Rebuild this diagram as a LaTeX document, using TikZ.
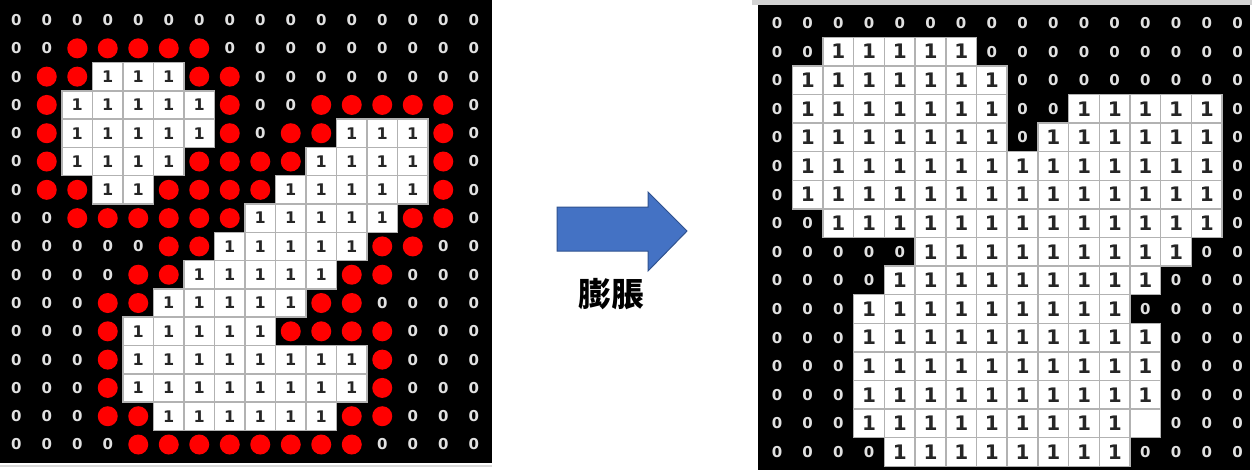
\documentclass[tikz,border=0pt]{standalone}
\usepackage{fontspec}
\newfontfamily\cjkfont{Noto Sans CJK TC}
\newfontfamily\digfont{DejaVu Sans}
\definecolor{arrowblue}{RGB}{68,114,196}
\definecolor{arrowedge}{RGB}{47,82,143}
\definecolor{zeroc}{RGB}{225,225,225}
\tikzset{
  zerotxt/.style={text=zeroc, font=\digfont\bfseries\fontsize{15}{15}\selectfont, inner sep=0pt},
  onetxtL/.style={text=black!85, font=\digfont\bfseries\fontsize{16}{16}\selectfont, inner sep=0pt},
  onetxtR/.style={text=black!85, font=\digfont\bfseries\fontsize{20}{20}\selectfont, inner sep=0pt},
  onecell/.style={fill=white, draw=gray!60, line width=1.5pt},
  reddot/.style={fill=red},
  blockarrow/.style={fill=arrowblue, draw=arrowedge, line width=1pt},
  lbltxt/.style={font=\cjkfont\bfseries\fontsize{33}{33}\selectfont, text=black, inner sep=0pt}
}
\begin{document}
\begin{tikzpicture}[x=1pt,y=-1pt]
\useasboundingbox (0,0) rectangle (1255,475);
\fill[white] (0,0) rectangle (1255,475);
% ---------------- left grid (original) ----------------
\fill[black] (0,0) rectangle (492,463);
\draw[gray!30, line width=1.5pt] (0,466) -- (492,466);
\foreach \r/\a/\b/\d/\e in {0/99/98/99/98, 1/99/98/99/98, 2/3/5/99/98, 3/2/6/99/98,
    4/2/6/11/13, 5/2/5/10/13, 6/3/4/9/13, 7/8/12/99/98, 8/7/11/99/98, 9/6/10/99/98,
    10/5/9/99/98, 11/4/8/99/98, 12/4/11/99/98, 13/4/11/99/98, 14/5/10/99/98, 15/99/98/99/98}
  \foreach \c in {0,...,15} {
    \pgfmathtruncatemacro\isone{((\c>=\a)&&(\c<=\b))||((\c>=\d)&&(\c<=\e))}
    \ifnum\isone=1
      \draw[onecell] ({1+30.5*\c},{5.85+28.3*\r}) rectangle +(30.5,28.3);
      \node[onetxtL] (LO-\r-\c) at ({16.25+30.5*\c},{20+28.3*\r}) {1};
    \else
      \node[zerotxt] (LZ-\r-\c) at ({16.25+30.5*\c},{20+28.3*\r}) {0};
    \fi
  }
\foreach \r/\cs in {1/{2,3,4,5,6}, 2/{1,2,6,7}, 3/{1,7,10,11,12,13,14}, 4/{1,7,9,10,14},
    5/{1,6,7,8,9,14}, 6/{1,2,5,6,7,8,14}, 7/{2,3,4,5,6,7,13,14}, 8/{5,6,12,13},
    9/{4,5,11,12}, 10/{3,4,10,11}, 11/{3,9,10,11,12}, 12/{3,12}, 13/{3,12},
    14/{3,4,11,12}, 15/{4,5,6,7,8,9,10,11}}
  \foreach \c in \cs
    \fill[reddot] ({16.25+30.5*\c},{20+28.3*\r}) circle[radius=10pt];
% ---------------- arrow and label ----------------
\draw[blockarrow] (557,207) -- (648,207) -- (648,192) -- (687,231) -- (648,271)
  -- (648,251) -- (557,251) -- cycle;
\node[lbltxt] (lbl) at (611,294) {膨脹};
% ---------------- right grid (dilated) ----------------
\fill[gray!35] (752,0) rectangle (1252,5);
\fill[black] (758,5) rectangle (1250,470);
\foreach \r/\a/\b/\d/\e in {0/99/98/99/98, 1/2/6/99/98, 2/1/7/99/98, 3/1/7/10/14,
    4/1/7/9/14, 5/1/14/99/98, 6/1/14/99/98, 7/2/14/99/98, 8/5/13/99/98, 9/4/12/99/98,
    10/3/11/99/98, 11/3/12/99/98, 12/3/12/99/98, 13/3/12/99/98, 14/3/12/99/98, 15/4/11/99/98}
  \foreach \c in {0,...,15} {
    \pgfmathtruncatemacro\isone{((\c>=\a)&&(\c<=\b))||((\c>=\d)&&(\c<=\e))}
    \pgfmathtruncatemacro\isblank{(\r==14)&&(\c==12)}
    \ifnum\isone=1
      \draw[onecell] ({761.6+30.7*\c},{8.7+28.6*\r}) rectangle +(30.7,28.6);
      \ifnum\isblank=0
        \node[onetxtR] (RO-\r-\c) at ({777+30.7*\c},{23+28.6*\r}) {1};
      \fi
    \else
      \node[zerotxt] (RZ-\r-\c) at ({777+30.7*\c},{23+28.6*\r}) {0};
    \fi
  }
\end{tikzpicture}
\end{document}
